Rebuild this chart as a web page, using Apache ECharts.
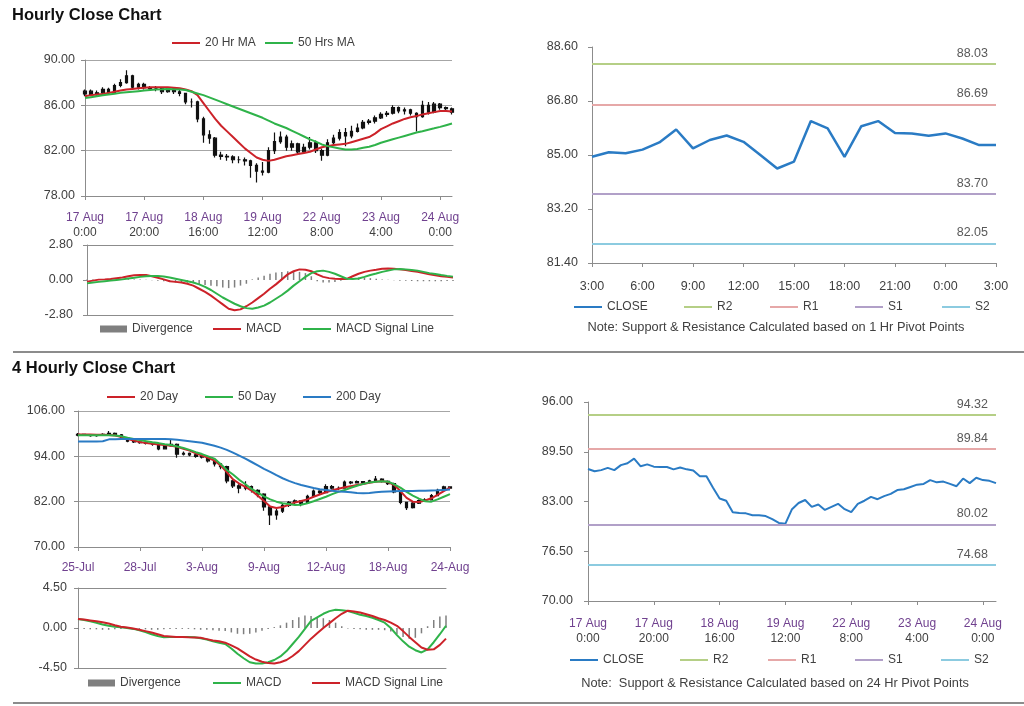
<!DOCTYPE html>
<html>
<head>
<meta charset="utf-8">
<script src="https://cdn.jsdelivr.net/npm/echarts@6/dist/echarts.min.js"></script>
<style>
html,body{margin:0;padding:0;background:#fff;}
#c{width:1024px;height:706px;}
</style>
</head>
<body>
<div id="c"></div>
<script>
// ---------- Hourly (2-hour sampled) OHLC ----------
const hOpen  = [87.0,87.25,86.95,87.1,87.4,87.1,87.75,88.0,88.6,87.6,87.85,87.55,87.5,87.5,87.2,87.45,87.2,87.05,86.3,86.3,84.8,83.4,83.1,81.6,81.5,81.45,81.2,81.2,81.1,80.7,80.2,80.1,82.0,82.8,83.2,82.3,82.6,81.9,82.3,82.7,82.0,81.6,82.7,83.1,83.6,83.3,83.7,84.0,84.5,84.6,84.9,85.2,85.3,85.8,85.5,85.6,85.3,85.0,86.0,85.4,86.1,85.8,85.7];
const hClose = [87.25,86.95,87.1,87.4,87.1,87.75,88.0,88.6,87.6,87.85,87.55,87.5,87.5,87.2,87.45,87.2,87.05,86.3,86.3,84.8,83.4,83.1,81.6,81.5,81.45,81.2,81.2,81.1,80.7,80.2,80.1,82.0,82.8,83.2,82.3,82.6,81.9,82.3,82.7,82.0,81.6,82.7,83.1,83.6,83.3,83.7,84.0,84.5,84.6,84.9,85.2,85.3,85.8,85.5,85.6,85.3,85.0,86.0,85.4,86.1,85.8,85.7,85.4];
const hLow   = [86.8,86.8,86.85,87.0,86.95,87.05,87.6,87.9,87.4,87.4,87.4,87.3,87.25,87.0,87.1,87.0,86.8,86.1,85.8,84.5,82.7,82.6,81.4,81.2,81.1,80.9,80.9,80.7,79.6,79.2,79.8,80.0,81.7,82.6,82.0,82.0,81.7,81.8,82.1,81.8,81.1,81.5,82.5,82.9,82.4,83.1,83.6,83.9,84.3,84.4,84.8,85.0,85.2,85.3,85.2,85.1,83.7,84.9,85.2,85.3,85.6,85.5,85.2];
const hHigh  = [87.4,87.4,87.3,87.6,87.55,87.9,88.3,89.1,88.7,88.0,88.0,87.7,87.7,87.6,87.6,87.55,87.35,87.1,86.6,86.4,85.0,83.8,83.2,81.9,81.7,81.6,81.5,81.4,81.2,80.9,81.0,82.3,83.6,83.7,83.4,82.9,82.7,82.6,83.2,82.9,82.2,83.0,83.4,83.9,84.0,84.2,84.4,84.7,84.8,85.1,85.4,85.5,86.0,85.9,85.8,85.7,85.4,86.4,86.3,86.3,86.2,85.9,85.8];
const hMA20  = [86.8,86.9,86.95,87.0,87.1,87.2,87.3,87.4,87.45,87.5,87.55,87.6,87.6,87.6,87.6,87.55,87.5,87.4,87.25,86.9,86.2,85.5,84.8,84.2,83.7,83.2,82.7,82.2,81.8,81.4,81.2,81.1,81.2,81.35,81.5,81.6,81.7,81.8,81.9,82.1,82.3,82.4,82.5,82.55,82.6,82.75,82.9,83.05,83.2,83.5,83.9,84.15,84.4,84.6,84.8,84.95,85.05,85.2,85.3,85.4,85.5,85.5,85.45];
const hMA50  = [86.65,86.72,86.8,86.88,86.95,87.02,87.1,87.15,87.2,87.25,87.3,87.35,87.4,87.42,87.45,87.42,87.4,87.35,87.2,87.05,86.9,86.7,86.5,86.3,86.1,85.9,85.7,85.5,85.3,85.1,84.9,84.65,84.4,84.2,84.0,83.75,83.5,83.25,83.0,82.8,82.55,82.4,82.3,82.2,82.1,82.1,82.15,82.25,82.35,82.5,82.7,82.85,83.0,83.15,83.3,83.45,83.6,83.72,83.85,83.97,84.1,84.25,84.4];
const hMACD  = [-0.13,-0.05,0.03,0.05,0.08,0.14,0.2,0.3,0.38,0.4,0.4,0.3,0.18,0.05,-0.1,-0.15,-0.2,-0.3,-0.45,-0.7,-0.95,-1.25,-1.6,-1.95,-2.3,-2.42,-2.35,-2.1,-1.8,-1.45,-1.1,-0.7,-0.35,0.05,0.45,0.7,0.85,0.82,0.7,0.45,0.25,0.15,0.1,0.08,0.08,0.3,0.5,0.65,0.75,0.82,0.9,0.92,0.9,0.85,0.8,0.72,0.65,0.55,0.45,0.38,0.3,0.25,0.2];
const hSignal= [-0.27,-0.2,-0.15,-0.1,-0.05,0.0,0.05,0.12,0.18,0.25,0.3,0.32,0.32,0.28,0.2,0.1,0.0,-0.1,-0.2,-0.35,-0.55,-0.8,-1.1,-1.4,-1.65,-1.9,-2.1,-2.25,-2.3,-2.2,-2.05,-1.8,-1.5,-1.2,-0.85,-0.45,-0.1,0.25,0.55,0.7,0.75,0.65,0.5,0.3,0.1,0.08,0.12,0.25,0.4,0.52,0.65,0.75,0.85,0.88,0.85,0.8,0.75,0.65,0.55,0.48,0.4,0.33,0.27];
const hDiv   = [0.05,0.05,0.05,0.04,0.04,0.05,0.05,0.06,0.05,0.04,0.02,-0.02,-0.05,-0.1,-0.15,-0.2,-0.2,-0.22,-0.25,-0.35,-0.4,-0.45,-0.5,-0.6,-0.65,-0.6,-0.45,-0.3,0.05,0.2,0.35,0.5,0.6,0.65,0.7,0.7,0.65,0.55,0.3,-0.1,-0.2,-0.2,-0.15,-0.05,0.1,0.15,0.2,0.2,0.15,0.1,0.05,0.02,-0.02,-0.05,-0.06,-0.08,-0.1,-0.1,-0.1,-0.1,-0.1,-0.08,-0.08];
const hTickDay  = ['17 Aug','17 Aug','18 Aug','19 Aug','22 Aug','23 Aug','24 Aug'];
const hTickTime = ['0:00','20:00','16:00','12:00','8:00','4:00','0:00'];

// ---------- 1 Hr pivot panel ----------
const p1Hours = ['3:00','4:00','5:00','6:00','7:00','8:00','9:00','10:00','11:00','12:00','13:00','14:00','15:00','16:00','17:00','18:00','19:00','20:00','21:00','22:00','23:00','0:00','1:00','2:00','3:00'];
const p1Close = [84.94,85.09,85.06,85.18,85.42,85.85,85.22,85.50,85.65,85.44,85.00,84.55,84.78,86.13,85.89,84.94,85.96,86.13,85.73,85.72,85.64,85.72,85.55,85.33,85.33];
const pivotNames = ['R2','R1','S1','S2'];
const pivot1Hr  = [88.03,86.69,83.70,82.05];
const pivot24Hr = [94.32,89.84,80.02,74.68];

// ---------- 4 Hourly OHLC ----------
const fOpen  = [99.6,99.8,99.7,99.5,99.6,99.8,100.1,99.7,98.8,98.0,97.8,97.6,97.4,97.2,96.0,96.8,97.2,94.6,94.8,94.4,94.0,93.8,92.8,92.0,91.3,87.5,86.2,85.6,86.0,85.0,84.0,80.6,78.5,79.5,81.0,81.8,82.2,81.6,83.4,84.8,84.4,86.0,85.6,85.6,87.2,87.0,87.3,87.1,87.5,88.0,87.4,86.8,84.6,81.8,80.4,81.6,82.3,82.5,83.6,85.0,85.9];
const fClose = [99.8,99.7,99.5,99.6,99.8,100.1,99.7,98.8,98.0,97.8,97.6,97.4,97.2,96.0,96.8,97.2,94.6,94.8,94.4,94.0,93.8,92.8,92.0,91.3,87.5,86.2,85.6,86.0,85.0,84.0,80.6,78.5,79.5,81.0,81.8,82.2,81.6,83.4,84.8,84.4,86.0,85.6,85.6,87.2,87.0,87.3,87.1,87.5,88.0,87.4,86.8,84.6,81.8,80.4,81.6,82.3,82.5,83.6,85.0,85.9,85.6];
const fLow   = [99.3,99.4,99.2,99.2,99.4,99.6,99.4,98.5,97.7,97.5,97.3,97.1,96.8,95.6,95.8,96.6,93.6,94.2,94.0,93.6,93.4,92.4,91.3,90.6,86.9,85.6,84.2,85.0,84.4,83.2,79.6,75.8,77.2,79.0,80.6,81.4,80.8,81.4,83.2,83.9,84.2,85.2,85.0,85.4,86.6,86.8,86.7,86.9,87.3,87.1,86.4,84.2,81.3,79.8,80.2,81.4,82.0,82.4,83.5,84.8,85.3];
const fHigh  = [100.2,100.0,99.9,99.9,100.1,100.7,100.3,99.9,99.0,98.2,98.0,97.8,97.6,97.3,97.0,98.4,97.4,95.3,95.0,94.6,94.2,94.0,93.0,92.2,91.5,87.8,86.6,87.4,86.3,85.3,84.2,80.9,80.2,81.4,82.2,82.6,82.4,83.8,85.2,85.0,86.6,86.4,86.0,87.6,87.5,87.6,87.5,87.8,88.8,88.2,87.6,87.0,84.8,82.0,81.9,82.6,82.9,84.0,85.4,86.2,86.1];
const f20Day = [99.8,99.8,99.75,99.7,99.7,99.65,99.5,99.1,98.6,98.2,97.8,97.5,97.3,97.15,97.0,96.8,96.5,96.0,95.5,94.8,94.2,93.6,92.9,91.6,89.8,87.9,86.8,85.9,84.9,83.6,82.2,80.7,80.3,80.6,81.2,81.8,82.2,82.6,83.3,83.9,84.5,85.0,85.4,85.8,86.1,86.4,86.7,87.0,87.3,87.4,87.2,86.4,84.8,83.0,82.0,81.9,82.3,82.9,83.8,84.8,85.7];
const f50Day = [99.6,99.6,99.6,99.6,99.6,99.6,99.5,99.3,98.9,98.6,98.3,98.0,97.7,97.5,97.2,97.0,96.6,96.2,95.7,95.1,94.6,94.0,93.4,92.0,90.4,89.2,87.8,86.6,85.4,84.4,83.4,82.6,82.0,81.6,81.4,81.1,81.2,81.6,82.1,82.7,83.3,84.0,84.6,85.1,85.7,86.2,86.7,87.1,87.3,87.4,87.3,86.6,85.7,84.6,83.6,82.8,82.1,82.0,82.6,83.3,84.0];
const f200Day= [97.9,97.9,97.9,97.9,98.0,98.5,98.55,98.6,98.6,98.6,98.6,98.6,98.6,98.6,98.6,98.55,98.4,98.2,98.0,97.8,97.6,97.2,96.8,96.3,95.7,95.0,94.2,93.4,92.5,91.6,90.7,89.9,89.0,88.2,87.5,86.9,86.4,86.0,85.6,85.3,85.1,84.9,84.7,84.6,84.5,84.3,84.2,84.3,84.5,84.6,84.7,84.75,84.8,84.8,84.85,84.9,84.9,84.95,85.0,85.1,85.2];
const fMACD  = [1.0,0.9,0.75,0.6,0.4,0.25,0.15,0.08,0.0,-0.1,-0.25,-0.45,-0.7,-0.9,-1.05,-1.0,-1.0,-1.0,-1.0,-1.05,-1.15,-1.3,-1.5,-1.65,-1.8,-2.3,-2.9,-3.4,-3.85,-4.0,-4.0,-3.85,-3.6,-3.2,-2.6,-1.8,-1.0,-0.1,0.8,1.2,1.6,1.9,2.05,2.0,1.9,1.7,1.5,1.35,1.15,0.9,0.6,0.0,-0.8,-1.5,-2.1,-2.5,-2.75,-2.4,-1.6,-0.7,0.25];
const fSignal= [1.0,0.95,0.85,0.75,0.65,0.5,0.3,0.15,0.05,-0.05,-0.2,-0.35,-0.5,-0.7,-0.9,-0.95,-1.0,-1.02,-1.05,-1.07,-1.1,-1.25,-1.4,-1.5,-1.65,-1.95,-2.3,-2.75,-3.2,-3.55,-3.8,-3.95,-4.0,-3.85,-3.6,-3.15,-2.6,-1.9,-1.2,-0.6,0.0,0.55,1.1,1.6,1.95,1.85,1.75,1.55,1.35,1.1,0.9,0.6,0.25,-0.35,-1.0,-1.6,-2.2,-2.45,-2.4,-1.9,-1.2];
const fDiv   = [-0.1,-0.1,-0.15,-0.15,-0.2,-0.2,-0.15,-0.1,-0.1,-0.1,-0.1,-0.15,-0.2,-0.2,-0.15,-0.1,-0.1,-0.1,-0.1,-0.15,-0.2,-0.2,-0.25,-0.3,-0.35,-0.5,-0.65,-0.7,-0.65,-0.5,-0.3,-0.1,0.1,0.3,0.6,0.9,1.2,1.4,1.35,1.2,1.1,0.9,0.6,0.2,-0.05,-0.1,-0.15,-0.2,-0.2,-0.2,-0.25,-0.4,-0.7,-1.0,-1.2,-1.1,-0.6,0.2,0.9,1.3,1.4];
const fTicks = ['25-Jul','28-Jul','3-Aug','9-Aug','12-Aug','18-Aug','24-Aug'];

// ---------- styling ----------
const FONT = '"Liberation Sans", Arial, sans-serif';
const TXT = '#404040';
const AX = '#8c8c8c';
const GRIDC = '#a6a6a6';
const RED = '#cc2229';
const GREEN = '#2fb34a';
const BLUE = '#2a7bc4';
const GRAY = '#7f7f7f';
const PIVOT_COLORS = ['#b5cf86','#e6a8a8','#b1a0c8','#8ccbe0'];
const PURPLE = '#70418f';

const hIdx = hClose.map((_, i) => String(i));
const fIdx = fClose.map((_, i) => String(i));
const hCandles = hClose.map((c, i) => [hOpen[i], c, hLow[i], hHigh[i]]);
const fCandles = fClose.map((c, i) => [fOpen[i], c, fLow[i], fHigh[i]]);

const chart = echarts.init(document.getElementById('c'), null, {renderer: 'canvas'});

function yAx(gi, min, max, interval, split, margin) {
  return {
    type: 'value', gridIndex: gi, min, max, interval,
    axisLine: {show: true, lineStyle: {color: AX, width: 1}},
    axisTick: {show: true, length: 4, lineStyle: {color: AX}},
    splitLine: {show: split, lineStyle: {color: GRIDC, width: 1}},
    axisLabel: {margin, color: TXT, fontFamily: FONT, fontSize: 12.5, formatter: v => v.toFixed(2)}
  };
}
function twoLineLabels(margin) {
  return {
    interval: 9, margin, lineHeight: 15,
    formatter: (v, i) => '{d|' + hTickDay[i / 10] + '}\n{t|' + hTickTime[i / 10] + '}',
    rich: {
      d: {color: PURPLE, fontFamily: FONT, fontSize: 12, lineHeight: 15},
      t: {color: TXT, fontFamily: FONT, fontSize: 12, lineHeight: 15}
    }
  };
}
function blankX(gi, data, pos) {
  return {
    type: 'category', gridIndex: gi, data, boundaryGap: false, position: pos,
    axisLine: {show: true, onZero: false, lineStyle: {color: AX}},
    axisTick: {show: false}, axisLabel: {show: false}, splitLine: {show: false}
  };
}

function leg(name, left, cy) {
  return {
    data: [{name, icon: 'rect'}], left, top: cy - 6, padding: 0,
    itemWidth: 28, itemHeight: 2, selectedMode: false,
    textStyle: {fontFamily: FONT, fontSize: 12, color: TXT},
    formatter: n => n.split('_')[0]
  };
}
function divLeg(name, left, cy) {
  return {
    data: [{name, icon: 'rect'}], left, top: cy - 6, padding: 0,
    itemWidth: 27, itemHeight: 7, selectedMode: false,
    textStyle: {fontFamily: FONT, fontSize: 12, color: TXT},
    formatter: n => n.split('_')[0]
  };
}

function line(name, xi, yi, data, color, width, z) {
  return {
    type: 'line', name, xAxisIndex: xi, yAxisIndex: yi, data,
    symbol: 'none', showSymbol: false, color,
    lineStyle: {color, width: width || 2}, z: z || 3, animation: false
  };
}
function pivotSeries(name, xi, yi, value, color) {
  return {
    type: 'line', name, xAxisIndex: xi, yAxisIndex: yi, data: [],
    symbol: 'none', color, lineStyle: {color, width: 1.5}, animation: false,
    markLine: {
      silent: true, symbol: ['none', 'none'], animation: false,
      lineStyle: {color, width: 1.8, type: 'solid'},
      label: {show: true, position: 'insideEndTop', distance: [8, 4], color: '#595959',
              fontFamily: FONT, fontSize: 12.5, formatter: p => p.value.toFixed(2)},
      data: [{yAxis: value}]
    }
  };
}
function candles(name, xi, yi, data) {
  return {
    type: 'candlestick', name, xAxisIndex: xi, yAxisIndex: yi, data,
    barWidth: 3, animation: false, z: 2,
    itemStyle: {color: '#111', color0: '#111', borderColor: '#111', borderColor0: '#111', borderWidth: 1.2}
  };
}

const option = {
  animation: false,
  backgroundColor: '#fff',
  grid: [
    {left: 85, top: 60, width: 367, height: 136},
    {left: 87, top: 245, width: 366, height: 70},
    {left: 592, top: 47, width: 404, height: 216},
    {left: 78, top: 411, width: 372, height: 136},
    {left: 78, top: 588, width: 368, height: 80},
    {left: 588, top: 402, width: 408, height: 199}
  ],
  xAxis: [
    {type: 'category', gridIndex: 0, data: hIdx, boundaryGap: false,
     axisLine: {onZero: false, lineStyle: {color: AX}},
     axisTick: {interval: 9, length: 4, lineStyle: {color: AX}},
     axisLabel: twoLineLabels(14)},
    blankX(1, hIdx, 'bottom'),
    blankX(1, hIdx, 'top'),
    {type: 'category', gridIndex: 2, data: p1Hours, boundaryGap: false,
     axisLine: {onZero: false, lineStyle: {color: AX}},
     axisTick: {interval: 2, length: 4, lineStyle: {color: AX}},
     axisLabel: {interval: 2, margin: 17, color: TXT, fontFamily: FONT, fontSize: 12.5}},
    {type: 'category', gridIndex: 3, data: fIdx, boundaryGap: false,
     axisLine: {onZero: false, lineStyle: {color: AX}},
     axisTick: {interval: 9, length: 4, lineStyle: {color: AX}},
     axisLabel: {interval: 9, margin: 15, color: PURPLE, fontFamily: FONT, fontSize: 12,
                 formatter: (v, i) => fTicks[i / 10]}},
    blankX(4, fIdx, 'bottom'),
    blankX(4, fIdx, 'top'),
    {type: 'category', gridIndex: 5, data: hIdx, boundaryGap: false,
     axisLine: {onZero: false, lineStyle: {color: AX}},
     axisTick: {interval: 9, length: 4, lineStyle: {color: AX}},
     axisLabel: twoLineLabels(15)}
  ],
  yAxis: [
    yAx(0, 78, 90, 4, true, 10),
    yAx(1, -2.8, 2.8, 2.8, false, 14),
    yAx(2, 81.4, 88.6, 1.8, false, 14),
    yAx(3, 70, 106, 12, true, 13),
    yAx(4, -4.5, 4.5, 4.5, false, 11),
    yAx(5, 70, 96, 6.5, false, 15)
  ],
  legend: [
    leg('20 Hr MA', 172, 43), leg('50 Hrs MA', 265, 43),
    divLeg('Divergence', 100, 329), leg('MACD', 213, 329), leg('MACD Signal Line', 303, 329),
    leg('CLOSE', 574, 307), leg('R2', 684, 307), leg('R1', 770, 307), leg('S1', 855, 307), leg('S2', 942, 307),
    leg('20 Day', 107, 397), leg('50 Day', 205, 397), leg('200 Day', 303, 397),
    divLeg('Divergence_4', 88, 683), leg('MACD_4', 213, 683), leg('MACD Signal Line_4', 312, 683),
    leg('CLOSE_24', 570, 660), leg('R2_24', 680, 660), leg('R1_24', 768, 660), leg('S1_24', 855, 660), leg('S2_24', 941, 660)
  ],
  series: [
    candles('hourly', 0, 0, hCandles),
    line('20 Hr MA', 0, 0, hMA20, RED, 2),
    line('50 Hrs MA', 0, 0, hMA50, GREEN, 2),
    {type: 'bar', name: 'Divergence', xAxisIndex: 1, yAxisIndex: 1, data: hDiv, barWidth: 1.5,
     itemStyle: {color: GRAY}, animation: false},
    line('MACD', 1, 1, hMACD, RED, 2),
    line('MACD Signal Line', 1, 1, hSignal, GREEN, 2),

    line('CLOSE', 3, 2, p1Close, BLUE, 2.5, 4),
    ...pivotNames.map((n, k) => pivotSeries(n, 3, 2, pivot1Hr[k], PIVOT_COLORS[k])),

    candles('fourHourly', 4, 3, fCandles),
    line('20 Day', 4, 3, f20Day, RED, 2),
    line('50 Day', 4, 3, f50Day, GREEN, 2),
    line('200 Day', 4, 3, f200Day, BLUE, 2),
    {type: 'bar', name: 'Divergence_4', xAxisIndex: 5, yAxisIndex: 4, data: fDiv, barWidth: 1.5,
     itemStyle: {color: GRAY}, animation: false},
    line('MACD_4', 5, 4, fMACD, GREEN, 2),
    line('MACD Signal Line_4', 5, 4, fSignal, RED, 2),

    line('CLOSE_24', 7, 5, hClose, BLUE, 2, 4),
    ...pivotNames.map((n, k) => pivotSeries(n + '_24', 7, 5, pivot24Hr[k], PIVOT_COLORS[k]))
  ],
  graphic: [
    {type: 'text', left: 12, top: 7, style: {text: 'Hourly Close Chart', font: 'bold 16.5px "Liberation Sans", Arial', fill: '#111'}},
    {type: 'text', left: 12, top: 360, style: {text: '4 Hourly Close Chart', font: 'bold 16.5px "Liberation Sans", Arial', fill: '#111'}},
    {type: 'line', shape: {x1: 13, y1: 352, x2: 1024, y2: 352}, style: {stroke: '#8c8c8c', lineWidth: 2}},
    {type: 'line', shape: {x1: 13, y1: 703, x2: 1024, y2: 703}, style: {stroke: '#8c8c8c', lineWidth: 2}},
    {type: 'text', x: 776, y: 327, style: {text: 'Note: Support & Resistance Calculated based on 1 Hr Pivot Points',
      font: '12.8px "Liberation Sans", Arial', fill: TXT, align: 'center', verticalAlign: 'middle'}},
    {type: 'text', x: 775, y: 683, style: {text: 'Note:  Support & Resistance Calculated based on 24 Hr Pivot Points',
      font: '12.8px "Liberation Sans", Arial', fill: TXT, align: 'center', verticalAlign: 'middle'}}
  ]
};
chart.setOption(option);
</script>
</body>
</html>
